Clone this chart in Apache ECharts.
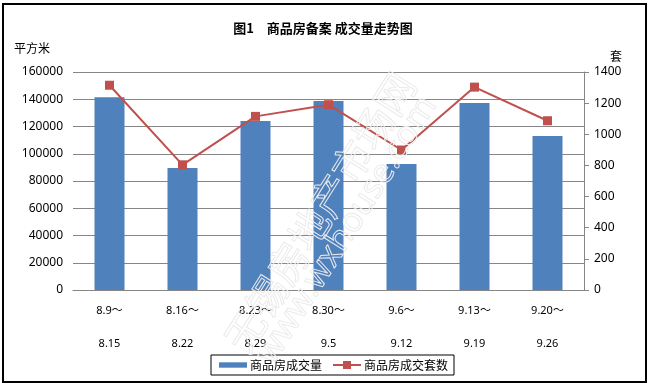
<!DOCTYPE html>
<html>
<head>
<meta charset="utf-8">
<script src="https://cdn.jsdelivr.net/npm/echarts@6/dist/echarts.min.js"></script>
<style>
html,body{margin:0;padding:0;background:#fff;}
#c{width:651px;height:386px;}
</style>
</head>
<body>
<div id="c"></div>
<script>
var categories = ['8.9～\n8.15','8.16～\n8.22','8.23～\n8.29','8.30～\n9.5','9.6～\n9.12','9.13～\n9.19','9.20～\n9.26'];
var areaValues = [141500, 89500, 124000, 138700, 92500, 137200, 113000];
var unitValues = [1315, 804, 1115, 1190, 899, 1303, 1087];
var leftTicks = {min: 0, max: 160000, interval: 20000};
var rightTicks = {min: 0, max: 1400, interval: 200};
var titleText = '图1\u3000商品房备案 成交量走势图';
var seriesNames = ['商品房成交量', '商品房成交套数'];

var FONT = '"Noto Sans", "Noto Sans CJK SC", sans-serif';
var plain = function (v) { return String(v); };
var chart = echarts.init(document.getElementById('c'), null, {renderer: 'canvas'});
chart.setOption({
  backgroundColor: '#fff',
  animation: false,
  textStyle: {fontFamily: FONT},
  title: {
    text: titleText,
    left: 318, top: 17, textAlign: 'center',
    textStyle: {fontSize: 13, fontWeight: 'bold', color: '#000', fontFamily: '"Noto Sans CJK SC", sans-serif'}
  },
  graphic: [
    {type: 'rect', shape: {x: 3, y: 4, width: 643, height: 378}, style: {fill: 'none', stroke: '#000', lineWidth: 2}, z: 100, silent: true},
    {type: 'text', x: 320, y: 212, rotation: 57.8 * Math.PI / 180, z: 50, silent: true,
      style: {text: '无锡房地产市场网', fill: 'none', stroke: '#ebebeb', lineWidth: 1, font: '40px "Noto Sans CJK SC"', textAlign: 'center', textVerticalAlign: 'middle'}},
    {type: 'text', x: 347, y: 230, rotation: 57.8 * Math.PI / 180, z: 50, silent: true,
      style: {text: 'www.wxhouse.com', fill: 'none', stroke: '#ebebeb', lineWidth: 1, font: '34px "Noto Sans"', textAlign: 'center', textVerticalAlign: 'middle'}}
  ],
  legend: {
    left: 211, top: 355,
    padding: [4, 6, 4, 8],
    itemGap: 10,
    itemWidth: 28, itemHeight: 10,
    borderColor: '#000', borderWidth: 1,
    textStyle: {fontSize: 12, color: '#000', fontFamily: '"Noto Sans CJK SC", sans-serif', padding: [0,0,0,-2]},
    data: [
      {name: seriesNames[0], icon: 'path://M0,0h26v5h-26z'},
      {name: seriesNames[1]}
    ]
  },
  grid: {left: 73, right: 67, top: 72, bottom: 96, containLabel: false},
  xAxis: {
    type: 'category',
    data: categories,
    axisLine: {lineStyle: {color: '#868686', width: 1}},
    axisTick: {show: false},
    axisLabel: {color: '#000', fontSize: 11, lineHeight: 33, margin: 4, interval: 0, fontFamily: FONT}
  },
  yAxis: [
    {
      type: 'value', name: '平方米', min: leftTicks.min, max: leftTicks.max, interval: leftTicks.interval,
      nameLocation: 'end', nameGap: 18,
      nameTextStyle: {fontSize: 12, color: '#000', align: 'left', padding: [0, 0, 0, -59], fontFamily: '"Noto Sans CJK SC", sans-serif'},
      axisLine: {show: false}, axisTick: {show: false},
      splitLine: {lineStyle: {color: '#868686', width: 1}},
      axisLabel: {color: '#000', fontSize: 12, margin: 10, fontFamily: FONT, formatter: plain}
    },
    {
      type: 'value', name: '套', min: rightTicks.min, max: rightTicks.max, interval: rightTicks.interval,
      position: 'right',
      nameLocation: 'end', nameGap: 10,
      nameTextStyle: {fontSize: 12, color: '#000', align: 'left', padding: [0, 0, 0, 26], fontFamily: '"Noto Sans CJK SC", sans-serif'},
      axisLine: {show: true, lineStyle: {color: '#868686'}},
      axisTick: {show: true, inside: false, length: 5, lineStyle: {color: '#868686'}},
      splitLine: {show: false},
      axisLabel: {color: '#000', fontSize: 12, margin: 10, fontFamily: FONT, formatter: plain}
    }
  ],
  series: [
    {
      name: seriesNames[0], type: 'bar', yAxisIndex: 0, data: areaValues,
      barWidth: 30, itemStyle: {color: '#4F81BD'}, z: 2
    },
    {
      name: seriesNames[1], type: 'line', yAxisIndex: 1, data: unitValues,
      symbol: 'rect', symbolSize: 9,
      lineStyle: {color: '#C0504D', width: 2},
      itemStyle: {color: '#C0504D'}, z: 3
    }
  ]
});
</script>
</body>
</html>
